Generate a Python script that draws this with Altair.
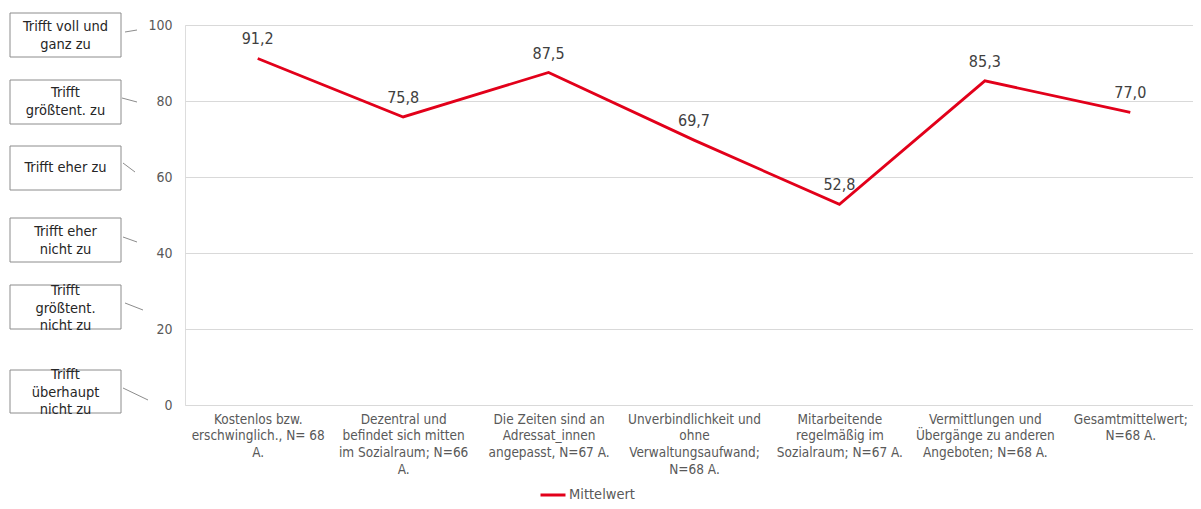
import altair as alt
import pandas as pd

# ---------------- data ----------------
categories = [
    "Kostenlos bzw.|erschwinglich., N= 68|A.",
    "Dezentral und|befindet sich mitten|im Sozialraum; N=66|A.",
    "Die Zeiten sind an|Adressat_innen|angepasst, N=67 A.",
    "Unverbindlichkeit und|ohne|Verwaltungsaufwand;|N=68 A.",
    "Mitarbeitende|regelmäßig im|Sozialraum; N=67 A.",
    "Vermittlungen und|Übergänge zu anderen|Angeboten; N=68 A.",
    "Gesamtmittelwert;|N=68 A.",
]
values = [91.2, 75.8, 87.5, 69.7, 52.8, 85.3, 77.0]
value_labels = ["91,2", "75,8", "87,5", "69,7", "52,8", "85,3", "77,0"]
series_name = "Mittelwert"
y_ticks = [0, 20, 40, 60, 80, 100]
scale_labels = [
    "Trifft voll und\nganz zu",
    "Trifft\ngrößtent. zu",
    "Trifft eher zu",
    "Trifft eher\nnicht zu",
    "Trifft\ngrößtent.\nnicht zu",
    "Trifft\nüberhaupt\nnicht zu",
]

# ---------------- layout (page pixels) ----------------
ORIGIN_X, ORIGIN_Y = 185, 25
PLOT_W, PLOT_H = 1008, 380
X_RANGE = 1018
box_x = (10, 121)
box_y = [(13, 57), (80, 124), (146, 190), (218, 262), (285, 329), (370, 413)]
text_y = [27, 93, 168, 232, 291, 375]   # first line of each box text
conn = [((125, 32), (137, 30)), ((122, 98), (137, 102)), ((123, 163), (135, 172)),
        ((123, 237), (137, 242)), ((125, 303), (143, 310)), ((123, 388), (148, 400))]

FONT = "DejaVu Sans Condensed, DejaVu Sans, sans-serif"
RED = "#E2001A"

df = pd.DataFrame({
    "category": categories,
    "value": values,
    "label": value_labels,
    "series": [series_name] * len(categories),
})

x_enc = alt.X(
    "category:N", sort=categories, title=None,
    scale=alt.Scale(paddingInner=0, paddingOuter=0, range=[0, X_RANGE]),
    axis=alt.Axis(labelAngle=0, labelExpr="split(datum.label, '|')",
                  labelFontSize=13.5, labelColor="#595959", labelFont=FONT,
                  domain=False, ticks=False, labelPadding=7,
                  labelLineHeight=16.8, labelLimit=0, grid=False),
)
y_enc = alt.Y(
    "value:Q", title=None,
    scale=alt.Scale(domain=[0, 100], nice=False),
    axis=alt.Axis(values=y_ticks, labelFontSize=14, labelColor="#595959",
                  labelFont=FONT, domain=False, ticks=False, labelPadding=13,
                  gridColor="#d9d9d9", gridWidth=1),
)

line = alt.Chart(df).mark_line(strokeWidth=2.8).encode(
    x=x_enc, y=y_enc,
    color=alt.Color(
        "series:N",
        scale=alt.Scale(domain=[series_name], range=[RED]),
        legend=alt.Legend(orient="none", legendX=354, legendY=456, title=None,
                          symbolType="stroke", symbolSize=625,
                          symbolStrokeWidth=3, labelFontSize=14.5,
                          labelColor="#595959", labelFont=FONT, labelOffset=2),
    ),
)
labels = alt.Chart(df).mark_text(dy=-19, fontSize=16, color="#404040", font=FONT).encode(
    x=alt.X("category:N", sort=categories), y="value:Q", text="label:N"
)
main = alt.layer(line, labels)

boxes_df = pd.DataFrame({
    "x1": [box_x[0] - ORIGIN_X] * 6,
    "x2": [box_x[1] - ORIGIN_X] * 6,
    "y1": [b[0] - ORIGIN_Y for b in box_y],
    "y2": [b[1] - ORIGIN_Y for b in box_y],
    "tx": [(box_x[0] + box_x[1]) / 2 - ORIGIN_X] * 6,
    "ty": [t - ORIGIN_Y for t in text_y],
    "txt": scale_labels,
    "cx1": [c[0][0] - ORIGIN_X for c in conn],
    "cy1": [c[0][1] - ORIGIN_Y for c in conn],
    "cx2": [c[1][0] - ORIGIN_X for c in conn],
    "cy2": [c[1][1] - ORIGIN_Y for c in conn],
})

rects = alt.Chart(boxes_df).mark_rect(fill="white", fillOpacity=0, stroke="#8c8c8c", strokeWidth=1).encode(
    x=alt.X("x1:Q", scale=None, axis=None), x2="x2:Q",
    y=alt.Y("y1:Q", scale=None, axis=None), y2="y2:Q",
)
btext = alt.Chart(boxes_df).mark_text(
    fontSize=14.5, color="#262626", font=FONT, lineBreak="\n",
    lineHeight=17.5, align="center", baseline="middle"
).encode(
    x=alt.X("tx:Q", scale=None, axis=None),
    y=alt.Y("ty:Q", scale=None, axis=None),
    text="txt:N",
)
connectors = alt.Chart(boxes_df).mark_rule(color="#8c8c8c", strokeWidth=1).encode(
    x=alt.X("cx1:Q", scale=None, axis=None), x2="cx2:Q",
    y=alt.Y("cy1:Q", scale=None, axis=None), y2="cy2:Q",
)
deco = alt.layer(rects, btext, connectors)

chart = alt.layer(main, deco).resolve_scale(
    x="independent", y="independent"
).properties(
    width=PLOT_W, height=PLOT_H,
    autosize=alt.AutoSizeParams(type="none"),
    padding={"left": ORIGIN_X - 8, "top": ORIGIN_Y - 8, "right": 0, "bottom": 493 - (ORIGIN_Y - 8) - PLOT_H},
).configure_view(stroke=None).configure(font=FONT)

chart.save("out.html", embed_options={"renderer": "svg", "actions": False})
